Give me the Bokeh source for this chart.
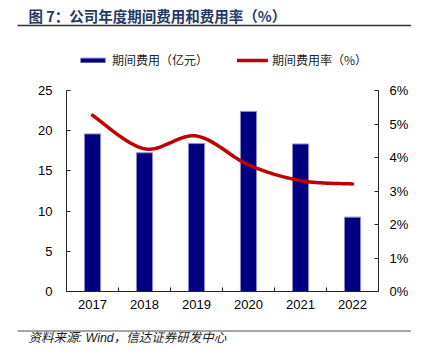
import numpy as np
from bokeh.plotting import figure
from bokeh.layouts import column
from bokeh.models import (Range1d, LinearAxis, FixedTicker, PrintfTickFormatter, Label,
                          Legend, LegendItem, BoxAnnotation)
from bokeh.embed import file_html
from bokeh.resources import INLINE

# ---- data ----
years = ["2017", "2018", "2019", "2020", "2021", "2022"]
expense = [19.6, 17.25, 18.4, 22.4, 18.35, 9.25]      # 期间费用（亿元）
rate = [5.26, 4.26, 4.64, 3.78, 3.31, 3.21]           # 期间费用率（%）
left_ticks = [0, 5, 10, 15, 20, 25]
right_ticks = [0, 1, 2, 3, 4, 5, 6]

title_text = "图 7：公司年度期间费用和费用率（%）"
source_text = "资料来源: Wind，信达证券研发中心"
bar_label = "期间费用（亿元）"
line_label = "期间费用率（%）"

W = 411
n = len(years)
xc = [i + 0.5 for i in range(n)]

# ---- header: title + rule ----
HH = 40
header = figure(width=W, height=HH, output_backend="svg", toolbar_location=None,
                x_range=Range1d(0, W), y_range=Range1d(0, HH),
                min_border=0, x_axis_location=None, y_axis_location=None,
                frame_align=False)
header.xgrid.visible = False
header.ygrid.visible = False
header.outline_line_color = None
header.add_layout(Label(x=28, y=HH - 15, x_units="screen", y_units="screen", text=title_text,
                        text_font="Noto Sans CJK SC", text_font_size="14.5px",
                        text_font_style="bold", text_color="#243a5e", text_baseline="middle"))
header.add_layout(BoxAnnotation(left=17, right=W, bottom=HH - 25.75, top=HH - 24.25,
                                left_units="screen", right_units="screen",
                                bottom_units="screen", top_units="screen",
                                fill_color="#333333", fill_alpha=1, line_color=None))

# ---- main chart ----
plot_px = 201      # height of the 0..25 axis span
top_pad = 50       # room for the legend above the axes
MH = 280
frame_h = plot_px + top_pad
p = figure(width=W, height=MH, output_backend="svg", toolbar_location=None,
           x_range=Range1d(0, n),
           y_range=Range1d(left_ticks[0], left_ticks[-1] * frame_h / plot_px),
           min_border_left=66, min_border_right=32, min_border_top=0,
           min_border_bottom=MH - frame_h,
           x_axis_location=None, y_axis_location=None, frame_align=False)
p.extra_y_ranges = {"pct": Range1d(right_ticks[0], right_ticks[-1] * frame_h / plot_px)}
p.xgrid.visible = False
p.ygrid.visible = False
p.outline_line_color = None

axis_color = "#222222"
tick_font = "Liberation Sans"

xaxis = LinearAxis(ticker=FixedTicker(ticks=xc, minor_ticks=list(range(n + 1))),
                   major_label_overrides={x: y for x, y in zip(xc, years)})
xaxis.major_tick_in = 0
xaxis.major_tick_out = 0
xaxis.minor_tick_in = 4
xaxis.minor_tick_out = 0
xaxis.axis_line_color = axis_color
xaxis.minor_tick_line_color = axis_color
xaxis.major_label_standoff = 8
xaxis.major_label_text_font = tick_font
xaxis.major_label_text_font_size = "13px"
xaxis.major_label_text_color = "#000000"
p.add_layout(xaxis, "below")

yaxis = LinearAxis(ticker=FixedTicker(ticks=left_ticks), bounds=(left_ticks[0], left_ticks[-1]))
yaxis.major_tick_in = 4
yaxis.major_tick_out = 0
yaxis.minor_tick_line_color = None
yaxis.axis_line_color = axis_color
yaxis.major_tick_line_color = axis_color
yaxis.major_label_standoff = 14
yaxis.major_label_text_font = tick_font
yaxis.major_label_text_font_size = "13px"
yaxis.major_label_text_color = "#000000"
p.add_layout(yaxis, "left")

raxis = LinearAxis(y_range_name="pct", ticker=FixedTicker(ticks=right_ticks),
                   bounds=(right_ticks[0], right_ticks[-1]),
                   formatter=PrintfTickFormatter(format="%d%%"))
raxis.major_tick_in = 4
raxis.major_tick_out = 0
raxis.minor_tick_line_color = None
raxis.axis_line_color = axis_color
raxis.major_tick_line_color = axis_color
raxis.major_label_standoff = 11
raxis.major_label_text_font = tick_font
raxis.major_label_text_font_size = "13px"
raxis.major_label_text_color = "#000000"
p.add_layout(raxis, "right")

bars = p.vbar(x=xc, top=expense, width=0.31, fill_color="#000080",
              line_color="#8c8cc8", line_width=1)

# smooth line (Bezier through the data points, sampled)
xs = np.array(xc, dtype=float)
ys = np.array(rate, dtype=float)
px = np.concatenate([[xs[0]], xs, [xs[-1]]])
py = np.concatenate([[ys[0]], ys, [ys[-1]]])
cx, cy = [], []
t = np.linspace(0, 1, 30)
for i in range(n - 1):
    p0x, p0y = px[i + 1], py[i + 1]
    p1x, p1y = px[i + 2], py[i + 2]
    c0x = p0x + (px[i + 2] - px[i]) / 6.0
    c0y = p0y + (py[i + 2] - py[i]) / 6.0
    c1x = p1x - (px[i + 3] - px[i + 1]) / 6.0
    c1y = p1y - (py[i + 3] - py[i + 1]) / 6.0
    bx = (1 - t) ** 3 * p0x + 3 * (1 - t) ** 2 * t * c0x + 3 * (1 - t) * t ** 2 * c1x + t ** 3 * p1x
    by = (1 - t) ** 3 * p0y + 3 * (1 - t) ** 2 * t * c0y + 3 * (1 - t) * t ** 2 * c1y + t ** 3 * p1y
    if i > 0:
        bx, by = bx[1:], by[1:]
    cx.extend(bx.tolist())
    cy.extend(by.tolist())
line = p.line(x=cx, y=cy, y_range_name="pct", line_color="#C00000", line_width=3.5,
              line_cap="round", line_join="round")

legend = Legend(items=[LegendItem(label=bar_label, renderers=[bars]),
                       LegendItem(label=line_label, renderers=[line])],
                location=(11, frame_h - 20 - 8), orientation="horizontal",
                glyph_width=31, glyph_height=6, label_standoff=4, spacing=29,
                padding=0, margin=0, border_line_color=None, background_fill_alpha=0,
                label_text_font="Noto Sans CJK SC", label_text_font_size="12px",
                label_height=12, label_text_baseline="middle", label_text_color="#222222")
p.add_layout(legend)

# ---- footer: rule + source ----
FH = 347 - HH - MH
footer = figure(width=W, height=FH, output_backend="svg", toolbar_location=None,
                x_range=Range1d(0, W), y_range=Range1d(0, FH),
                min_border=0, x_axis_location=None, y_axis_location=None,
                frame_align=False)
footer.xgrid.visible = False
footer.ygrid.visible = False
footer.outline_line_color = None
footer.add_layout(BoxAnnotation(left=17, right=W, bottom=FH - 11.25, top=FH - 9.75,
                                left_units="screen", right_units="screen",
                                bottom_units="screen", top_units="screen",
                                fill_color="#888888", fill_alpha=1, line_color=None))
footer.add_layout(Label(x=28, y=FH - 17.5, x_units="screen", y_units="screen", text=source_text,
                        text_font="Liberation Sans, Noto Sans CJK SC", text_font_size="12.5px",
                        text_font_style="italic", text_color="#222222", text_baseline="middle"))

layout = column(header, p, footer, spacing=0)
open("out.html", "w").write(file_html(layout, INLINE))
